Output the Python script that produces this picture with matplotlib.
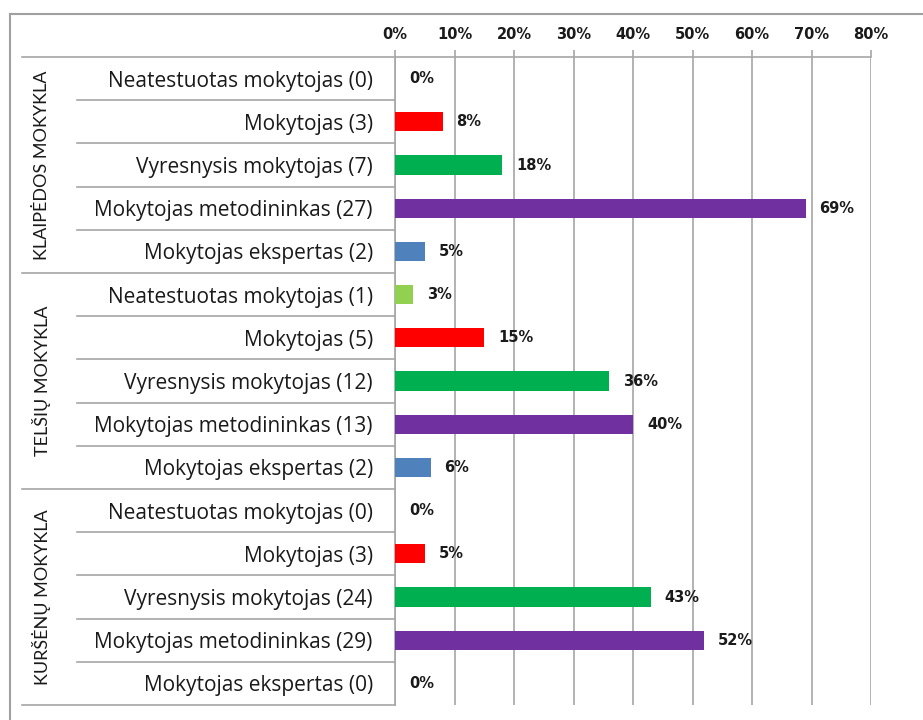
import matplotlib.pyplot as plt
from matplotlib.transforms import blended_transform_factory

# Data
schools = ["KLAIPĖDOS MOKYKLA", "TELŠIŲ MOKYKLA", "KURŠĖNŲ MOKYKLA"]
klaipeda_labels = ["Neatestuotas mokytojas (0)", "Mokytojas (3)", "Vyresnysis mokytojas (7)",
                   "Mokytojas metodininkas (27)", "Mokytojas ekspertas (2)"]
telsiai_labels = ["Neatestuotas mokytojas (1)", "Mokytojas (5)", "Vyresnysis mokytojas (12)",
                  "Mokytojas metodininkas (13)", "Mokytojas ekspertas (2)"]
kursenai_labels = ["Neatestuotas mokytojas (0)", "Mokytojas (3)", "Vyresnysis mokytojas (24)",
                   "Mokytojas metodininkas (29)", "Mokytojas ekspertas (0)"]
klaipeda_pct = [0, 8, 18, 69, 5]
telsiai_pct = [3, 15, 36, 40, 6]
kursenai_pct = [0, 5, 43, 52, 0]
type_colors = ["#92D050", "#FF0000", "#00B050", "#7030A0", "#4F81BD"]
x_ticks = [0, 10, 20, 30, 40, 50, 60, 70, 80]

labels = klaipeda_labels + telsiai_labels + kursenai_labels
values = klaipeda_pct + telsiai_pct + kursenai_pct
colors = type_colors * 3
rows = list(range(len(labels)))

W, H = 923, 720
fig = plt.figure(figsize=(W / 100, H / 100), dpi=100)
ax = fig.add_axes([395 / W, 15 / H, 476 / W, 648 / H])

grey = "#A6A6A6"

ax.barh(rows, values, height=0.44, color=colors, zorder=3)

# data labels
for r, v in zip(rows, values):
    ax.annotate(f"{v}%", (v, r), xytext=(10, 0), textcoords="offset points",
                ha="left", va="center", fontsize=10.5, fontweight="bold",
                color="#1a1a1a", family="DejaVu Sans")

ax.set_xlim(0, 80)
ax.set_ylim(len(labels) - 0.5, -0.5)
ax.xaxis.tick_top()
ax.set_xticks(x_ticks)
ax.set_xticklabels([f"{t}%" for t in x_ticks], fontsize=10.5, fontweight="bold",
                   color="#1a1a1a", family="DejaVu Sans")
ax.tick_params(axis="x", direction="out", length=5, color=grey, width=1.2, pad=6)
ax.grid(axis="x", color=grey, linewidth=1.2, zorder=0)

ax.set_yticks(rows)
ax.set_yticklabels(labels, fontsize=15, family="Open Sans", color="#1a1a1a")
ax.tick_params(axis="y", length=0, pad=16)

for s in ["right", "bottom"]:
    ax.spines[s].set_visible(False)
ax.spines["top"].set_color(grey)
ax.spines["left"].set_color(grey)
ax.spines["top"].set_linewidth(1.2)
ax.spines["left"].set_linewidth(1.2)

# table lines on the left side
trans = blended_transform_factory(fig.transFigure, ax.transData)
for k in range(len(labels) + 1):
    y = k - 0.5
    x0 = 22 / W if k % 5 == 0 else 77 / W
    ax.plot([x0, 395 / W], [y, y], color=grey, lw=1.2, transform=trans, clip_on=False)

# school group labels
for i, school in enumerate(schools):
    ax.text(42 / W, i * 5 + 2, school, transform=trans, rotation=90,
            ha="center", va="center", fontsize=13, family="Lato", color="#1a1a1a")

# outer frame (cut off at right and bottom)
fig.add_artist(plt.Line2D([10 / W, 10 / W], [0, 1 - 14 / H], color="#A0A0A0", lw=1.5))
fig.add_artist(plt.Line2D([10 / W, 1], [1 - 14 / H, 1 - 14 / H], color="#A0A0A0", lw=1.5))

fig.savefig("out.png", dpi=100)
